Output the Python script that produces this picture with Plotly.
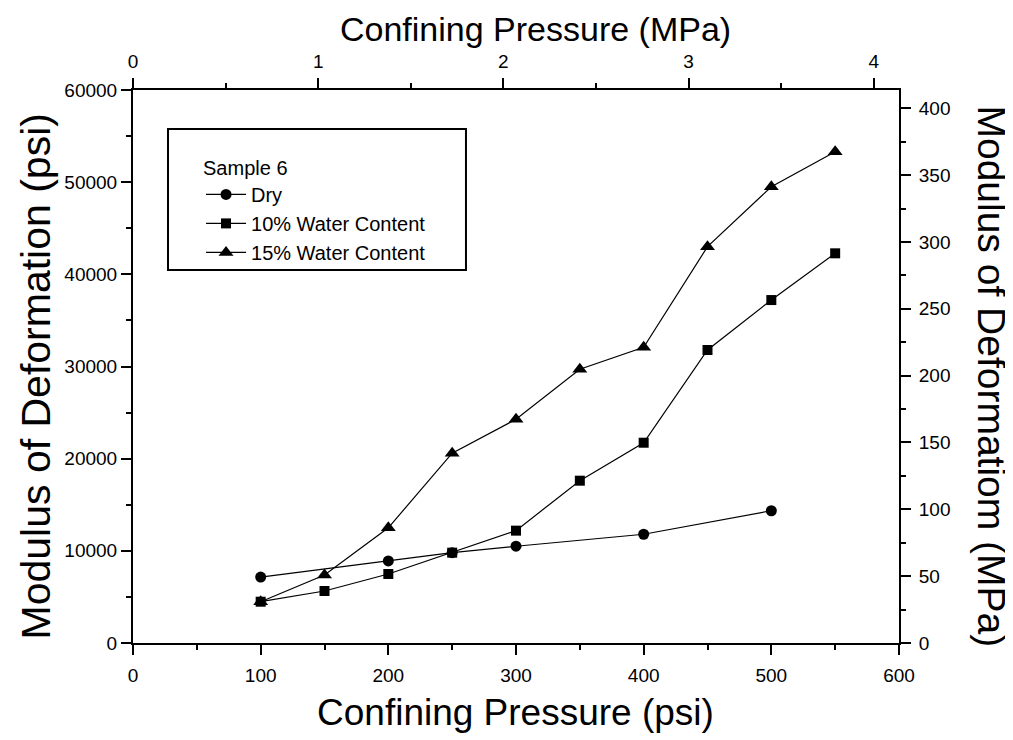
import plotly.graph_objects as go

# ---- data ----
pressure_psi = [100, 150, 200, 250, 300, 350, 400, 450, 500, 550]
dry_x = [100, 200, 250, 300, 400, 500]
dry_y = [7150, 8900, 9800, 10500, 11800, 14350]
wc10_y = [4480, 5640, 7490, 9800, 12190, 17610, 21730, 31790, 37210, 42280]
wc15_y = [4480, 7380, 12500, 20600, 24270, 29700, 32080, 43000, 49500, 53300]

legend_title = "Sample 6"
series_names = ["Dry", "10% Water Content", "15% Water Content"]

PSI_PER_MPA = 145.038
X_MAX_PSI = 600
Y_MAX_PSI = 60000

FONT = "Liberation Sans, Arial, Helvetica, sans-serif"

fig = go.Figure()

line_style = dict(color="black", width=1.2)

fig.add_trace(go.Scatter(
    x=pressure_psi, y=wc15_y, mode="lines+markers", name=series_names[2],
    line=line_style, marker=dict(symbol="triangle-up", size=13, color="black"),
    legendrank=3))
fig.add_trace(go.Scatter(
    x=pressure_psi, y=wc10_y, mode="lines+markers", name=series_names[1],
    line=line_style, marker=dict(symbol="square", size=10, color="black"),
    legendrank=2))
fig.add_trace(go.Scatter(
    x=dry_x, y=dry_y, mode="lines+markers", name=series_names[0],
    line=line_style, marker=dict(symbol="circle", size=11, color="black"),
    legendrank=1))
# empty trace to activate the secondary (MPa) axes
fig.add_trace(go.Scatter(x=[], y=[], xaxis="x2", yaxis="y2", showlegend=False,
                         hoverinfo="skip"))

tickfont = dict(family=FONT, size=19, color="black")

common = dict(showline=True, linecolor="black", linewidth=2, ticks="outside",
              ticklen=10, tickwidth=1.5, tickcolor="black", showgrid=False,
              zeroline=False, tickfont=tickfont, tickmode="linear", tickformat="d")

fig.update_layout(
    width=1005, height=732,
    margin=dict(l=125, r=114, t=82, b=97),
    paper_bgcolor="white", plot_bgcolor="white",
    font=dict(family=FONT, color="black"),
    xaxis=dict(range=[0, X_MAX_PSI], tick0=0, dtick=100, ticklabelstandoff=4,
               minor=dict(ticks="outside", ticklen=5, dtick=50, tickcolor="black"),
               **common),
    yaxis=dict(range=[0, Y_MAX_PSI], tick0=0, dtick=10000,
               minor=dict(ticks="outside", ticklen=5, dtick=5000, tickcolor="black"),
               **common),
    xaxis2=dict(overlaying="x", side="top", range=[0, X_MAX_PSI / PSI_PER_MPA],
                tick0=0, dtick=1, anchor="y", ticklabelstandoff=2,
                minor=dict(ticks="outside", ticklen=5, dtick=0.5, tickcolor="black"),
                **common),
    yaxis2=dict(overlaying="y", side="right", range=[0, Y_MAX_PSI / PSI_PER_MPA],
                tick0=0, dtick=50, anchor="x", ticklabelstandoff=4,
                minor=dict(ticks="outside", ticklen=5, dtick=25, tickcolor="black"),
                **common),
    legend=dict(x=0.0888, y=0.8935, xanchor="left", yanchor="top",
                bgcolor="rgba(0,0,0,0)", borderwidth=0,
                font=dict(family=FONT, size=20, color="black"),
                title=dict(text=legend_title, font=dict(family=FONT, size=20, color="black")),
                itemwidth=40),
    showlegend=True,
)

# legend frame
fig.add_shape(type="rect", xref="paper", yref="paper",
              x0=0.0457, x1=0.4347, y0=0.6745, y1=0.9295,
              line=dict(color="black", width=2), fillcolor="rgba(0,0,0,0)")

# axis titles
fig.add_annotation(text="Confining Pressure (MPa)", xref="paper", yref="paper",
                   x=0.526, y=1.0, yshift=61.5, xanchor="center", yanchor="middle",
                   showarrow=False, font=dict(family=FONT, size=34, color="black"))
fig.add_annotation(text="Confining Pressure (psi)", xref="paper", yref="paper",
                   x=0.4987, y=0.0, yshift=-69, xanchor="center", yanchor="middle",
                   showarrow=False, font=dict(family=FONT, size=37, color="black"))
fig.add_annotation(text="Modulus of Deformation (psi)", xref="paper", yref="paper",
                   x=0.0, xshift=-97, y=0.482, xanchor="center", yanchor="middle",
                   textangle=-90, showarrow=False,
                   font=dict(family=FONT, size=41, color="black"))
fig.add_annotation(text="Modulus of Deformatiom (MPa)", xref="paper", yref="paper",
                   x=1.0, xshift=93, y=0.482, xanchor="center", yanchor="middle",
                   textangle=90, showarrow=False,
                   font=dict(family=FONT, size=39, color="black"))

fig.write_html("out.html")
